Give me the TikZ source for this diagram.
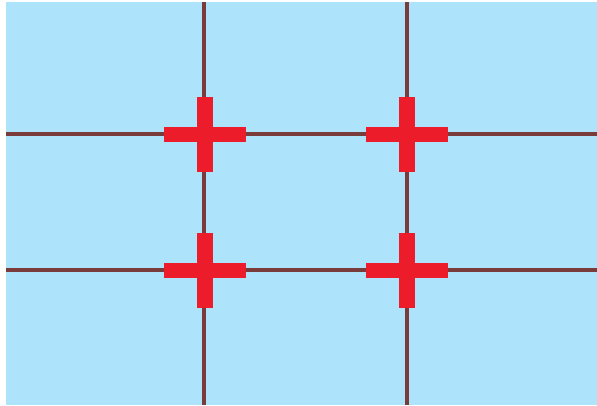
\documentclass[tikz,border=0pt]{standalone}
\usepackage{xcolor}
\usepackage{tikz}
\definecolor{skyblue}{HTML}{ADE3FB}
\definecolor{gridbrown}{HTML}{7A3B3B}
\definecolor{crossred}{HTML}{EC1C2A}

\begin{document}
\begin{tikzpicture}[x=1pt,y=-1pt]
            \useasboundingbox (0,0) rectangle (597,405);
            \fill[white] (0,0) rectangle (597,405);
            \fill[skyblue] (6,2) rectangle (597,405);
            \foreach \x in {204,407} {
                    \draw[gridbrown, line width=3.5pt] (\x,2) -- (\x,405);
                }
            \foreach \y in {134,270} {
                    \draw[gridbrown, line width=3.5pt] (6,\y) -- (597,\y);
                }
            \foreach \x in {205,407} {
                    \foreach \y in {134,270} {
                            \fill[crossred] (\x-8,\y-37.5) rectangle ++(16,75);
                            \fill[crossred] (\x-41,\y-7.5) rectangle ++(82,15);
                        }
                }
        \end{tikzpicture}
\end{document}
